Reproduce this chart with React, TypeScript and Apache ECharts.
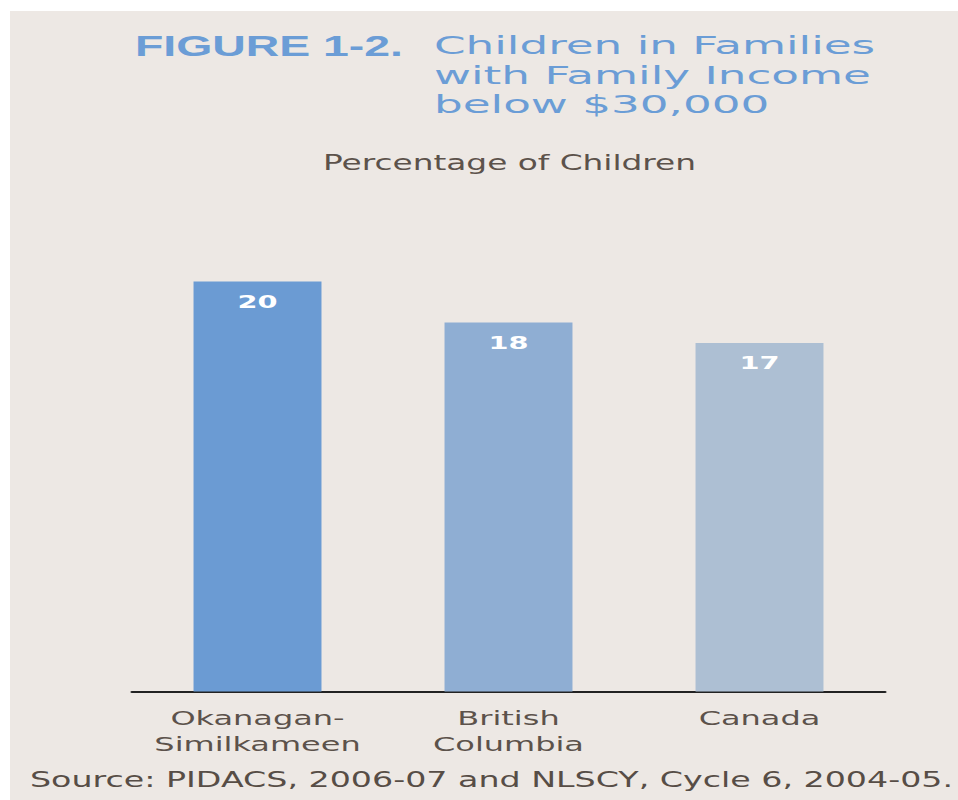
import React, { useEffect, useRef } from "react";
import * as echarts from "echarts";

// ---- data ----
const categories: string[] = ["Okanagan-\nSimilkameen", "British\nColumbia", "Canada"];
const values: number[] = [20, 18, 17];
const figureLabel = "FIGURE 1-2.";
const titleLines: string[] = ["Children in Families", "with Family Income", "below $30,000"];
const subtitle = "Percentage of Children";
const sourceNote = "Source: PIDACS, 2006-07 and NLSCY, Cycle 6, 2004-05.";

// ---- styles ----
const barColors = ["#6b9bd3", "#8faed3", "#adbfd3"];
const titleBlue = "#6b9dd6";
const textBrown = "#5c524b";
const bg = "#ede8e4";

// the reference is horizontally stretched; render in a narrower space and stretch
const CW = 599;
const S = 958 / CW;
const X = (x: number) => x / S;

export default function App() {
  const ref = useRef<HTMLDivElement>(null);

  useEffect(() => {
    if (!ref.current) return;
    const chart = echarts.init(ref.current, null, { renderer: "svg" });
    const font = "DejaVu Sans";
    const titleSize = 25.2;
    const titleStretch = 28.3 / titleSize;
    chart.setOption({
      animation: false,
      backgroundColor: "transparent",
      grid: {
        left: X(132),
        right: CW - X(885),
        top: 179,
        bottom: 108.5,
        containLabel: false,
      },
      xAxis: {
        type: "category",
        data: categories,
        boundaryGap: true,
        axisTick: { show: false },
        axisLine: { show: true, lineStyle: { color: "#222222", width: 2 } },
        axisLabel: {
          color: textBrown,
          fontFamily: font,
          fontSize: 20,
          lineHeight: 25.5,
          margin: 14,
          interval: 0,
        },
        splitLine: { show: false },
      },
      yAxis: {
        type: "value",
        min: 0,
        max: 25,
        show: false,
        splitLine: { show: false },
      },
      series: [
        {
          type: "bar",
          data: values.map((v, i) => ({ value: v, itemStyle: { color: barColors[i] } })),
          barWidth: 80,
          label: {
            show: true,
            position: "insideTop",
            distance: 11,
            color: "#ffffff",
            fontFamily: font,
            fontWeight: "bold",
            fontSize: 18,
          },
        },
      ],
      graphic: [
        {
          type: "text",
          x: X(135),
          y: 45.5,
          style: {
            text: figureLabel,
            fontFamily: "Liberation Sans",
            fontWeight: "bold",
            fontSize: 29,
            fill: titleBlue,
            align: "left",
            verticalAlign: "middle",
          },
        },
        ...titleLines.map((t, i) => ({
          type: "text",
          x: X(434),
          y: 45.5 + i * 29.5,
          scaleX: titleStretch,
          style: {
            text: t,
            fontFamily: font,
            fontSize: titleSize,
            fill: titleBlue,
            align: "left",
            verticalAlign: "middle",
          },
        })),
        {
          type: "text",
          x: X(509.5),
          y: 162.5,
          style: {
            text: subtitle,
            fontFamily: font,
            fontSize: 20.5,
            fill: textBrown,
            align: "center",
            verticalAlign: "middle",
          },
        },
        {
          type: "text",
          x: X(30),
          y: 779.5,
          style: {
            text: sourceNote,
            fontFamily: font,
            fontSize: 20.8,
            fill: "#574d46",
            align: "left",
            verticalAlign: "middle",
          },
        },
      ],
    });
    return () => chart.dispose();
  }, []);

  return (
    <div
      style={{
        position: "fixed",
        left: 0,
        top: 0,
        width: 958,
        height: 800,
        background: "#ffffff",
        overflow: "hidden",
      }}
    >
      <div
        style={{
          position: "absolute",
          left: 10,
          top: 11,
          right: 0,
          bottom: 0,
          background: bg,
        }}
      />
      <div
        ref={ref}
        style={{
          position: "absolute",
          left: 0,
          top: 0,
          width: CW,
          height: 800,
          transform: `scaleX(${S})`,
          transformOrigin: "0 0",
        }}
      />
    </div>
  );
}
